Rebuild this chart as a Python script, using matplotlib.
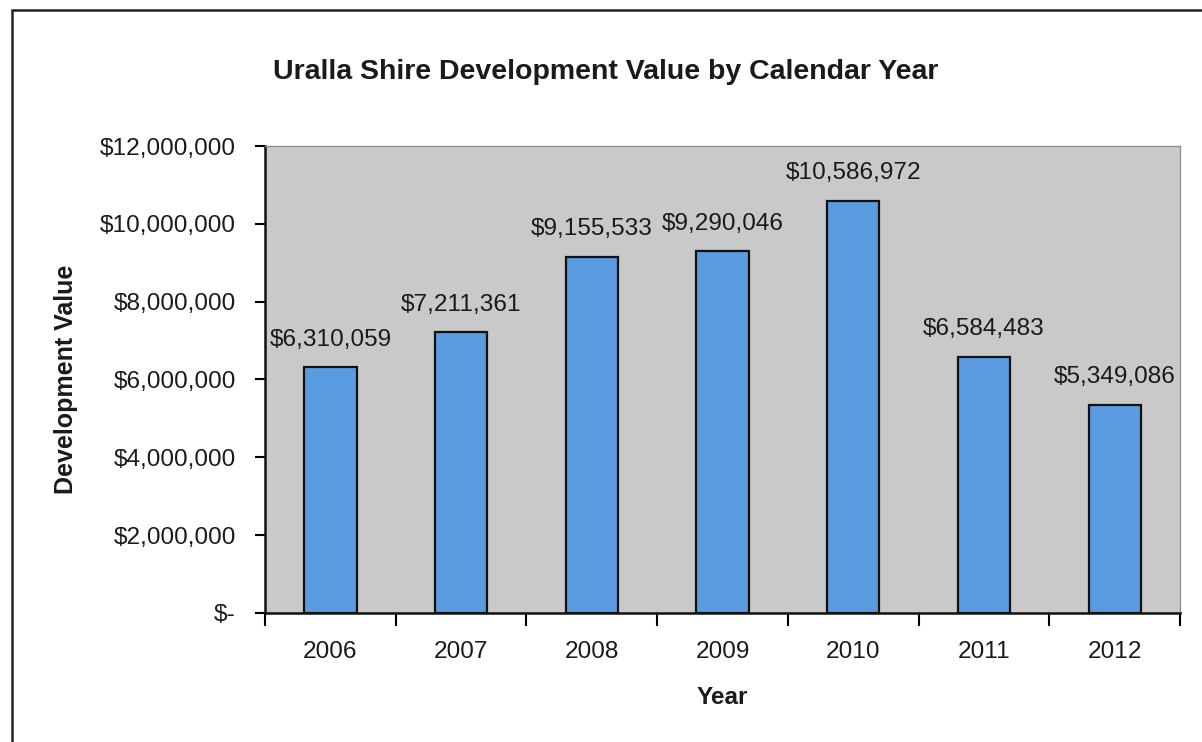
import matplotlib.pyplot as plt
from matplotlib.patches import Rectangle
from matplotlib.ticker import FuncFormatter, FixedLocator

# ------------------------------------------------------------
# Data
# ------------------------------------------------------------
years = ["2006", "2007", "2008", "2009", "2010", "2011", "2012"]
values = [6310059, 7211361, 9155533, 9290046, 10586972, 6584483, 5349086]
y_ticks = [0, 2000000, 4000000, 6000000, 8000000, 10000000, 12000000]

plt.rcParams['font.family'] = ['Liberation Sans', 'DejaVu Sans']
TXT = "#1a1a1a"

fig = plt.figure(figsize=(12.02, 7.42), dpi=100)
ax = fig.add_axes([0.2205, 0.1739, 0.7612, 0.6293])

# chart border (scanned page, cut off at right and bottom)
fig.patches.append(Rectangle((12 / 1202, -0.2), 1.2, 1.2 - 10 / 742,
                             transform=fig.transFigure, fill=False,
                             edgecolor="#222222", linewidth=1.8))

x = range(len(years))
ax.bar(x, values, width=0.4, color="#5b9be0", edgecolor="#111111",
       linewidth=1.6, zorder=3)

for i, v in enumerate(values):
    ax.annotate(f"${v:,}", (i, v), xytext=(0, 12), textcoords="offset points",
                ha="center", va="bottom", fontsize=17.6, color=TXT)

ax.set_facecolor("#c9c9c9")
ax.set_xlim(-0.5, len(years) - 0.5)
ax.set_ylim(0, 12000000)

ax.set_yticks(y_ticks)
ax.yaxis.set_major_formatter(FuncFormatter(lambda v, p: "$-" if v == 0 else f"${v:,.0f}"))
ax.tick_params(axis="y", direction="out", length=7, width=1.5, pad=14,
               labelsize=17.6, labelcolor=TXT)

# category ticks between bars, labels centred under bars
ax.xaxis.set_major_locator(FixedLocator([i - 0.5 for i in range(len(years) + 1)]))
ax.xaxis.set_major_formatter(FuncFormatter(lambda v, p: ""))
ax.xaxis.set_minor_locator(FixedLocator(list(x)))
ax.set_xticklabels(years, minor=True)
ax.tick_params(axis="x", which="major", direction="out", length=9, width=1.5)
ax.tick_params(axis="x", which="minor", length=0, pad=20, labelsize=17.6,
               labelcolor=TXT)

for s in ["left", "bottom"]:
    ax.spines[s].set_color("#111111")
    ax.spines[s].set_linewidth(1.8)
for s in ["top", "right"]:
    ax.spines[s].set_color("#8a8a8a")
    ax.spines[s].set_linewidth(0.9)

ax.set_ylabel("Development Value", fontsize=18, fontweight="bold",
              color=TXT, labelpad=16)
ax.set_xlabel("Year", fontsize=17.5, fontweight="bold", color=TXT, labelpad=17)

fig.text(0.504, 0.903, "Uralla Shire Development Value by Calendar Year",
         ha="center", va="center", fontsize=20.5, fontweight="bold", color=TXT)

fig.savefig("out.png", dpi=100)
